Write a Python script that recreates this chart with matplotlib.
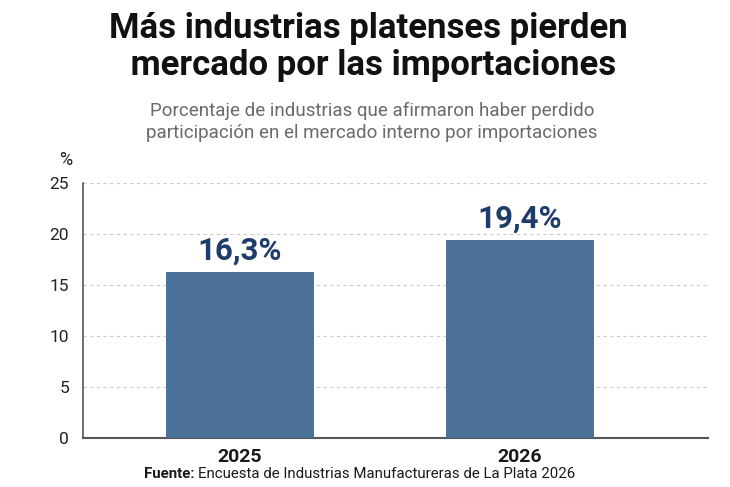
import matplotlib.pyplot as plt

plt.rcParams["font.family"] = ["Roboto", "DejaVu Sans"]

years = ["2025", "2026"]
shares = [16.3, 19.4]
value_labels = ["16,3%", "19,4%"]
y_ticks = [0, 5, 10, 15, 20, 25]

bar_color = "#4b7199"
label_color = "#1f3d6b"

fig = plt.figure(figsize=(7.3, 4.87), dpi=100)
ax = fig.add_axes([83 / 730, 1 - 438 / 487, 625 / 730, 255 / 487])

x = list(range(len(years)))
ax.bar(x, shares, width=0.53, color=bar_color, zorder=3)

for xi, val, txt in zip(x, shares, value_labels):
    ax.text(xi, val + 0.6, txt, ha="center", va="bottom", fontsize=22.5,
            fontweight="bold", color=label_color, zorder=4)

ax.set_xlim(-0.562, 1.674)
ax.set_ylim(0, 25)
ax.set_yticks(y_ticks)
ax.set_yticklabels([str(t) for t in y_ticks], fontsize=12.5, color="#222222")
ax.set_xticks(x)
ax.set_xticklabels(years, fontsize=14, fontweight="bold", color="#1a1a1a")
ax.tick_params(axis="both", length=0)
ax.tick_params(axis="y", pad=10)
ax.tick_params(axis="x", pad=7)

ax.grid(axis="y", linestyle=(0, (3, 3)), color="#cccccc", linewidth=0.8, zorder=0)
for side in ["top", "right"]:
    ax.spines[side].set_visible(False)
ax.spines["left"].set_color("#555555")
ax.spines["bottom"].set_color("#555555")
ax.spines["left"].set_linewidth(1.2)
ax.spines["bottom"].set_linewidth(1.5)

fig.text(66 / 730, 1 - 160 / 487, "%", ha="center", va="center", fontsize=13, color="#222222")

fig.text(0.505, 1 - 47 / 487, "Más industrias platenses pierden\n mercado por las importaciones",
         ha="center", va="center", fontsize=25, fontweight="bold", color="#111111",
         linespacing=1.15)
fig.text(372 / 730, 1 - 122 / 487,
         "Porcentaje de industrias que afirmaron haber perdido\nparticipación en el mercado interno por importaciones",
         ha="center", va="center", fontsize=13.5, color="#6a6a6a", linespacing=1.33)

src_y = 1 - 474 / 487
t1 = fig.text(144 / 730, src_y, "Fuente: ", ha="left", va="center", fontsize=10.8,
              fontweight="bold", color="#1a1a1a")
fig.canvas.draw()
bb = t1.get_window_extent()
fig.text(bb.x1 / 730, src_y, "Encuesta de Industrias Manufactureras de La Plata 2026",
         ha="left", va="center", fontsize=10.8, color="#1a1a1a")

fig.savefig("out.png", dpi=100)
